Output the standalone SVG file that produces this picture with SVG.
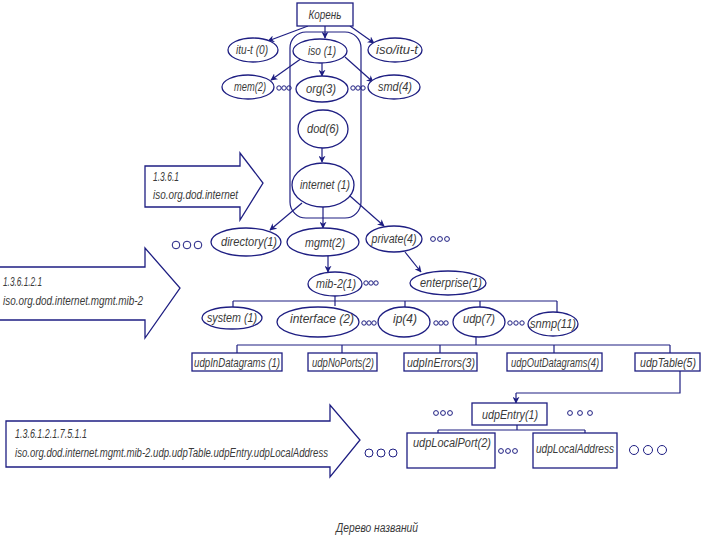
<svg xmlns="http://www.w3.org/2000/svg" width="720" height="540" viewBox="0 0 720 540">
<defs>
<marker id="ah" viewBox="0 0 10 10" refX="9" refY="5" markerWidth="7" markerHeight="7" orient="auto" markerUnits="userSpaceOnUse">
<path d="M0,0 L10,5 L0,10 L3,5 Z" fill="#1e1e82"/>
</marker>
<style>
.s{fill:#fff;stroke:#1e1e82;stroke-width:1.3}
.b{fill:#fff;stroke:#1e1e82;stroke-width:1.3}
.l{fill:none;stroke:#1e1e82;stroke-width:1.2}
.a{fill:none;stroke:#1e1e82;stroke-width:1.2;marker-end:url(#ah)}
.t{font-family:"Liberation Sans",Arial,sans-serif;font-style:italic;font-size:12px;fill:#3a3a3a;text-anchor:middle}
.tl{font-family:"Liberation Sans",Arial,sans-serif;font-style:italic;font-size:12px;fill:#3a3a3a}
.d{fill:none;stroke:#1e1e82;stroke-width:1}
</style>
</defs>
<rect width="720" height="540" fill="#fff"/>

<g id="frame"><rect class="l" x="290" y="32" width="71" height="186" rx="16"/></g>

<g id="connectors">
<path class="a" d="M308,26 L268,41"/>
<path class="a" d="M325,26 L325,38"/>
<path class="a" d="M350,26 L374,43"/>
<path class="a" d="M302,58 L271,80"/>
<path class="a" d="M322,63 L322,76"/>
<path class="a" d="M345,57 L373,82"/>
<path class="a" d="M322,148 L322,162"/>
<path class="a" d="M302,203 L270,230"/>
<path class="a" d="M323,207 L323,228"/>
<path class="a" d="M350,196 L384,226"/>
<path class="a" d="M328,256 L328,272"/>
<path class="a" d="M405,252 L421,272"/>
<path class="l" d="M335,296 L335,301 M233,301 L557,301 M233,301 L233,308 M335,301 L335,306 M405,301 L405,307 M480,301 L480,307 M557,301 L557,312"/>
<path class="l" d="M476,337 L476,345 M237,345 L670,345 M237,345 L237,353 M342,345 L342,353 M440,345 L440,353 M554,345 L554,353 M670,345 L670,353"/>
<path class="l" d="M680,371 L680,393 L516,393"/>
<path class="a" d="M516,393 L516,403"/>
<path class="l" d="M517,425 L517,430 M438,430 L585,430 M438,430 L438,433 M585,430 L585,433"/>
</g>

<g id="root"><rect class="b" x="297" y="3" width="56" height="23"/><text class="t" x="325" y="19" textLength="33" lengthAdjust="spacingAndGlyphs">Корень</text></g>

<g id="itu-t"><ellipse class="s" cx="253" cy="50" rx="25" ry="12"/><text class="t" x="252" y="54" textLength="32" lengthAdjust="spacingAndGlyphs">itu-t (0)</text></g>
<g id="iso"><ellipse class="s" cx="320" cy="51" rx="27" ry="12"/><text class="t" x="322" y="55" textLength="28" lengthAdjust="spacingAndGlyphs">iso (1)</text></g>
<g id="iso-itu-t"><ellipse class="s" cx="395" cy="50" rx="27" ry="12"/><text class="t" x="397" y="54" textLength="42" lengthAdjust="spacingAndGlyphs">iso/itu-t</text></g>

<g id="mem"><ellipse class="s" cx="248" cy="87" rx="26" ry="12"/><text class="t" x="250" y="91" textLength="32" lengthAdjust="spacingAndGlyphs">mem(2)</text></g>
<g id="org"><ellipse class="s" cx="322" cy="89" rx="26" ry="13"/><text class="t" x="321" y="93" textLength="30" lengthAdjust="spacingAndGlyphs">org(3)</text></g>
<g id="smd"><ellipse class="s" cx="394" cy="87" rx="26" ry="12"/><text class="t" x="395" y="91" textLength="34" lengthAdjust="spacingAndGlyphs">smd(4)</text></g>

<g id="dod"><ellipse class="s" cx="323" cy="129" rx="25" ry="19"/><text class="t" x="323" y="133" textLength="32" lengthAdjust="spacingAndGlyphs">dod(6)</text></g>
<g id="internet"><ellipse class="s" cx="323" cy="185" rx="31" ry="22"/><text class="t" x="325" y="189" textLength="50" lengthAdjust="spacingAndGlyphs">internet (1)</text></g>

<g id="directory"><ellipse class="s" cx="246" cy="242" rx="35" ry="14"/><text class="t" x="249" y="246" textLength="56" lengthAdjust="spacingAndGlyphs">directory(1)</text></g>
<g id="mgmt"><ellipse class="s" cx="323" cy="242" rx="36" ry="14"/><text class="t" x="325" y="247" textLength="40" lengthAdjust="spacingAndGlyphs">mgmt(2)</text></g>
<g id="private"><ellipse class="s" cx="394" cy="239" rx="28" ry="13"/><text class="t" x="394" y="243" textLength="45" lengthAdjust="spacingAndGlyphs">private(4)</text></g>

<g id="mib-2"><ellipse class="s" cx="335" cy="284" rx="27" ry="12"/><text class="t" x="336" y="288" textLength="40" lengthAdjust="spacingAndGlyphs">mib-2(1)</text></g>
<g id="enterprise"><ellipse class="s" cx="448" cy="283" rx="38" ry="12"/><text class="t" x="451" y="287" textLength="62" lengthAdjust="spacingAndGlyphs">enterprise(1)</text></g>

<g id="system"><ellipse class="s" cx="232" cy="318" rx="30" ry="11"/><text class="t" x="232" y="322" textLength="50" lengthAdjust="spacingAndGlyphs">system (1)</text></g>
<g id="interface"><ellipse class="s" cx="318" cy="322" rx="41" ry="15"/><text class="t" x="322" y="323" textLength="64" lengthAdjust="spacingAndGlyphs">interface (2)</text></g>
<g id="ip"><ellipse class="s" cx="404" cy="322" rx="26" ry="15"/><text class="t" x="405" y="323" textLength="24" lengthAdjust="spacingAndGlyphs">ip(4)</text></g>
<g id="udp"><ellipse class="s" cx="479" cy="322" rx="26" ry="15"/><text class="t" x="479" y="323" textLength="32" lengthAdjust="spacingAndGlyphs">udp(7)</text></g>
<g id="snmp"><ellipse class="s" cx="553" cy="324" rx="25" ry="12"/><text class="t" x="553" y="328" textLength="46" lengthAdjust="spacingAndGlyphs">snmp(11)</text></g>

<g id="udpInDatagrams"><rect class="b" x="192" y="353" width="90" height="18"/><text class="t" x="237" y="367" textLength="86" lengthAdjust="spacingAndGlyphs">udpInDatagrams (1)</text></g>
<g id="udpNoPorts"><rect class="b" x="308" y="353" width="69" height="18"/><text class="t" x="343" y="367" textLength="62" lengthAdjust="spacingAndGlyphs">udpNoPorts(2)</text></g>
<g id="udpInErrors"><rect class="b" x="404" y="353" width="73" height="18"/><text class="t" x="441" y="367" textLength="68" lengthAdjust="spacingAndGlyphs">udpInErrors(3)</text></g>
<g id="udpOutDatagrams"><rect class="b" x="507" y="353" width="95" height="18"/><text class="t" x="555" y="367" textLength="88" lengthAdjust="spacingAndGlyphs">udpOutDatagrams(4)</text></g>
<g id="udpTable"><rect class="b" x="635" y="353" width="65" height="18"/><text class="t" x="668" y="367" textLength="56" lengthAdjust="spacingAndGlyphs">udpTable(5)</text></g>

<g id="udpEntry"><rect class="b" x="472" y="403" width="75" height="22"/><text class="t" x="510" y="419" textLength="56" lengthAdjust="spacingAndGlyphs">udpEntry(1)</text></g>
<g id="udpLocalPort"><rect class="b" x="407" y="433" width="88" height="35"/><text class="t" x="452" y="447" textLength="78" lengthAdjust="spacingAndGlyphs">udpLocalPort(2)</text></g>
<g id="udpLocalAddress"><rect class="b" x="533" y="433" width="84" height="35"/><text class="t" x="575" y="453" textLength="78" lengthAdjust="spacingAndGlyphs">udpLocalAddress</text></g>

<g id="arrow1"><path class="b" d="M145,166 L240,166 L240,153 L263,183 L240,220 L240,207 L145,207 Z"/>
<text class="tl" x="153" y="181" textLength="26" lengthAdjust="spacingAndGlyphs">1.3.6.1</text>
<text class="tl" x="153" y="199" textLength="85" lengthAdjust="spacingAndGlyphs">iso.org.dod.internet</text></g>

<g id="arrow2"><path class="b" d="M0,267 L145,267 L145,248 L180,288 L145,338 L145,320 L0,320"/>
<text class="tl" x="3" y="286" textLength="39" lengthAdjust="spacingAndGlyphs">1.3.6.1.2.1</text>
<text class="tl" x="3" y="305" textLength="140" lengthAdjust="spacingAndGlyphs">iso.org.dod.internet.mgmt.mib-2</text></g>

<g id="arrow3"><path class="b" d="M6,421 L330,421 L330,405 L360,440 L330,477 L330,467 L6,467 Z"/>
<text class="tl" x="15" y="438" textLength="72" lengthAdjust="spacingAndGlyphs">1.3.6.1.2.1.7.5.1.1</text>
<text class="tl" x="15" y="457" textLength="313" lengthAdjust="spacingAndGlyphs">iso.org.dod.internet.mgmt.mib-2.udp.udpTable.udpEntry.udpLocalAddress</text></g>

<g id="dots">
<circle class="d" cx="279" cy="88" r="2.2"/><circle class="d" cx="284" cy="88" r="2.2"/><circle class="d" cx="289" cy="88" r="2.2"/>
<circle class="d" cx="353" cy="88" r="2.2"/><circle class="d" cx="358" cy="88" r="2.2"/><circle class="d" cx="363" cy="88" r="2.2"/>
<circle class="d" cx="176" cy="245" r="3.8"/><circle class="d" cx="187" cy="245" r="3.8"/><circle class="d" cx="198" cy="245" r="3.8"/>
<circle class="d" cx="433" cy="239" r="2.4"/><circle class="d" cx="440" cy="239" r="2.4"/><circle class="d" cx="447" cy="239" r="2.4"/>
<circle class="d" cx="366" cy="283" r="2.2"/><circle class="d" cx="371" cy="283" r="2.2"/><circle class="d" cx="376" cy="283" r="2.2"/>
<circle class="d" cx="364" cy="323" r="2.2"/><circle class="d" cx="369" cy="323" r="2.2"/><circle class="d" cx="374" cy="323" r="2.2"/>
<circle class="d" cx="436" cy="323" r="2.2"/><circle class="d" cx="441" cy="323" r="2.2"/><circle class="d" cx="446" cy="323" r="2.2"/>
<circle class="d" cx="510" cy="323" r="2.2"/><circle class="d" cx="516" cy="323" r="2.2"/><circle class="d" cx="522" cy="323" r="2.2"/>
<circle class="d" cx="436" cy="413" r="2.4"/><circle class="d" cx="443" cy="413" r="2.4"/><circle class="d" cx="450" cy="413" r="2.4"/>
<circle class="d" cx="570" cy="413" r="2.4"/><circle class="d" cx="580" cy="413" r="2.4"/><circle class="d" cx="590" cy="413" r="2.4"/>
<circle class="d" cx="501" cy="451" r="2.4"/><circle class="d" cx="508" cy="451" r="2.4"/><circle class="d" cx="515" cy="451" r="2.4"/>
<circle class="d" cx="634" cy="450" r="4.5"/><circle class="d" cx="648" cy="450" r="4.5"/><circle class="d" cx="662" cy="450" r="4.5"/>
<circle class="d" cx="369" cy="453" r="4"/><circle class="d" cx="381" cy="453" r="4"/><circle class="d" cx="393" cy="453" r="4"/>
</g>

<g id="caption"><text class="t" x="377" y="532" textLength="82" lengthAdjust="spacingAndGlyphs">Дерево названий</text></g>
</svg>
